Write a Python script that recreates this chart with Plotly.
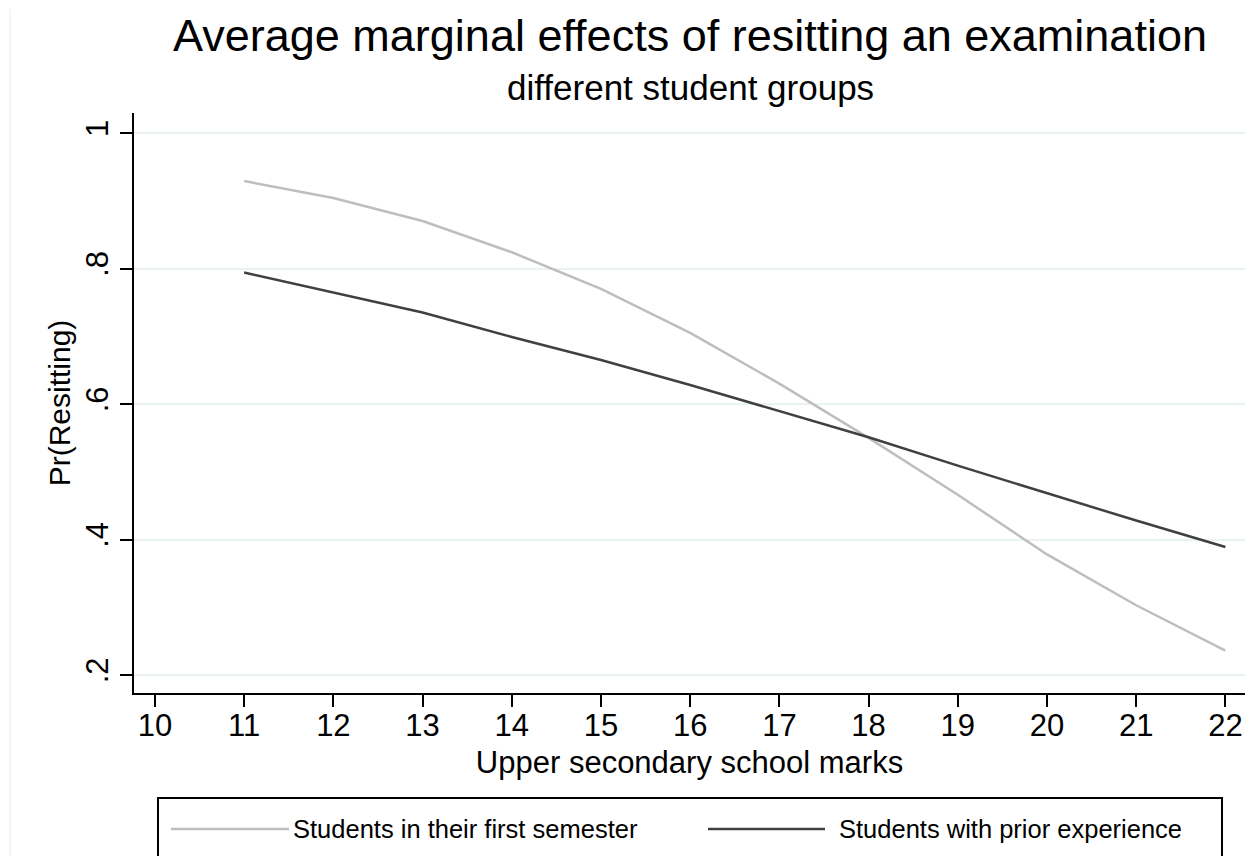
import plotly.graph_objects as go

marks = [11, 12, 13, 14, 15, 16, 17, 18, 19, 20, 21, 22]
first_semester = [0.929, 0.904, 0.870, 0.824, 0.770, 0.705, 0.630, 0.550, 0.466, 0.378, 0.303, 0.236]
prior_experience = [0.794, 0.765, 0.735, 0.699, 0.665, 0.628, 0.589, 0.551, 0.509, 0.468, 0.428, 0.389]
x_ticks = list(range(10, 23))
y_ticks = [0.2, 0.4, 0.6, 0.8, 1.0]
y_ticklabels = [".2", ".4", ".6", ".8", "1"]
series_names = ["Students in their first semester", "Students with prior experience"]
series_colors = ["#bebebe", "#404040"]

FONT = "Arial, Liberation Sans, sans-serif"

fig = go.Figure()
fig.add_trace(go.Scatter(x=marks, y=first_semester, mode="lines", name=series_names[0],
                         line=dict(color=series_colors[0], width=2.5), showlegend=False))
fig.add_trace(go.Scatter(x=marks, y=prior_experience, mode="lines", name=series_names[1],
                         line=dict(color=series_colors[1], width=2.5), showlegend=False))

OFF = 8  # default page body margin
W, H = 1259 - OFF, 856 - OFF
# target screen coordinates of plot area: x 134..1245, y 113..693
L, R, T, B = 134 - OFF, 1259 - 1245, 113 - OFF, 856 - 693
pw, ph = W - L - R, H - T - B


def px(xs):
    return (xs - OFF - L) / pw


def py(ys):
    return (T + ph - (ys - OFF)) / ph


fig.update_layout(
    width=W, height=H,
    margin=dict(l=L, r=R, t=T, b=B),
    paper_bgcolor="white", plot_bgcolor="white",
    font=dict(family=FONT, color="black"),
    title=dict(text="Average marginal effects of resitting an examination",
               x=px(690), xref="paper", xanchor="center",
               y=1 - (35 - OFF) / H, yref="container", yanchor="middle",
               font=dict(size=45, family=FONT, color="black")),
    xaxis=dict(range=[9.765, 22.22], tickvals=x_ticks, ticks="outside", ticklen=12,
               tickwidth=2, tickcolor="black", showline=True, linecolor="black", linewidth=2,
               showgrid=False, zeroline=False, tickfont=dict(size=31), ticklabelstandoff=-8,
               title=dict(text="Upper secondary school marks", font=dict(size=31), standoff=9)),
    yaxis=dict(range=[0.1735, 1.0295], tickvals=y_ticks, ticktext=y_ticklabels, tickangle=-90,
               ticks="outside", ticklen=12, tickwidth=2, tickcolor="black",
               showline=True, linecolor="black", linewidth=2,
               showgrid=True, gridcolor="#eaf2f3", gridwidth=2, zeroline=False,
               tickfont=dict(size=31),
               title=dict(text="Pr(Resitting)", font=dict(size=30), standoff=0)),
)

# subtitle
fig.add_annotation(text="different student groups", x=px(690), y=py(88), xref="paper", yref="paper",
                   xanchor="center", yanchor="middle", showarrow=False,
                   font=dict(size=35, family=FONT, color="black"))

# faint outer frame line on the left
fig.add_shape(type="line", xref="paper", yref="paper", x0=px(10), x1=px(10), y0=py(9), y1=py(870),
              line=dict(color="#e6eaea", width=1))

# legend box
fig.add_shape(type="rect", xref="paper", yref="paper", x0=px(158), x1=px(1222), y0=py(900), y1=py(798),
              line=dict(color="black", width=2), fillcolor="rgba(0,0,0,0)")
legend_y = py(829)
sample_x = [(171, 289, 291), (708, 825, 837)]
for (a, b, t), name, col in zip(sample_x, series_names, series_colors):
    fig.add_shape(type="line", xref="paper", yref="paper", x0=px(a), x1=px(b), y0=legend_y, y1=legend_y,
                  line=dict(color=col, width=2.5))
    fig.add_annotation(text=name, x=px(t), y=legend_y, xref="paper", yref="paper",
                       xanchor="left", yanchor="middle", showarrow=False,
                       font=dict(size=25.5, family=FONT, color="black"))

fig.write_html("out.html")
